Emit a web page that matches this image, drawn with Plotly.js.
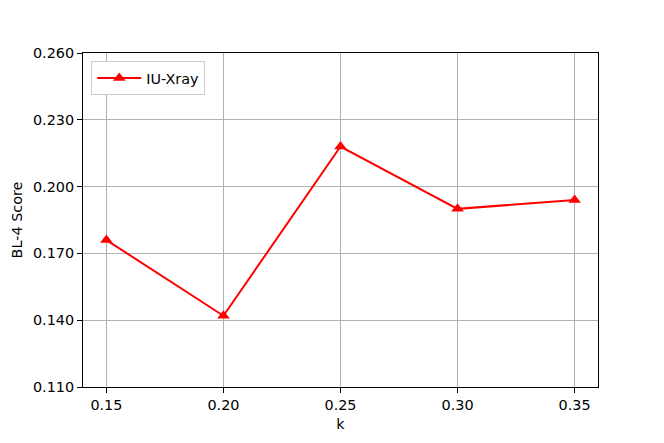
<!DOCTYPE html>
<html>
<head>
<meta charset="utf-8">
<script src="https://cdn.plot.ly/plotly-3.0.1.min.js"></script>
<style>
  body { margin: 0; background: #fff; }
  #chart { width: 664px; height: 443px; }
</style>
</head>
<body>
<div id="chart"></div>
<script>
// k values and BL-4 scores
var kValues = [0.15, 0.20, 0.25, 0.30, 0.35];
var iuXray = [0.176, 0.142, 0.218, 0.190, 0.194];
var yTicks = [0.110, 0.140, 0.170, 0.200, 0.230, 0.260];

var fontSize = 14.4;

var trace = {
    x: kValues,
    y: iuXray,
    name: 'IU-Xray',
    type: 'scatter',
    mode: 'lines+markers',
    line: {color: '#ff0000', width: 2},
    marker: {symbol: 'triangle-up', size: 11, color: '#ff0000'}
};

var axisStyle = {
    showline: true,
    mirror: true,
    linecolor: '#000',
    linewidth: 1,
    ticks: 'outside',
    ticklen: 5,
    tickcolor: '#000',
    showgrid: true,
    gridcolor: '#b0b0b0',
    gridwidth: 1,
    zeroline: false,
    tickfont: {family: 'DejaVu Sans', size: fontSize, color: '#000'}
};

var layout = {
    width: 664,
    height: 443,
    margin: {l: 83, r: 66, t: 53, b: 56},
    paper_bgcolor: '#fff',
    plot_bgcolor: '#fff',
    font: {family: 'DejaVu Sans', size: fontSize, color: '#000'},
    showlegend: true,
    legend: {
        x: 0.016, y: 0.976, xanchor: 'left', yanchor: 'top',
        itemwidth: 44,
        bgcolor: '#fff', bordercolor: '#cccccc', borderwidth: 1,
        font: {family: 'DejaVu Sans', size: fontSize, color: '#000'}
    },
    xaxis: Object.assign({}, axisStyle, {
        range: [0.14, 0.36],
        tickvals: kValues,
        ticktext: kValues.map(function(v) { return v.toFixed(2); }),
        title: {text: 'k', font: {family: 'DejaVu Sans', size: fontSize}, standoff: 6}
    }),
    yaxis: Object.assign({}, axisStyle, {
        range: [0.110, 0.260],
        tickvals: yTicks,
        ticktext: yTicks.map(function(v) { return v.toFixed(3); }),
        title: {text: 'BL-4 Score', font: {family: 'DejaVu Sans', size: fontSize}, standoff: 6}
    })
};

Plotly.newPlot('chart', [trace], layout, {displayModeBar: false, staticPlot: true});
</script>
</body>
</html>
